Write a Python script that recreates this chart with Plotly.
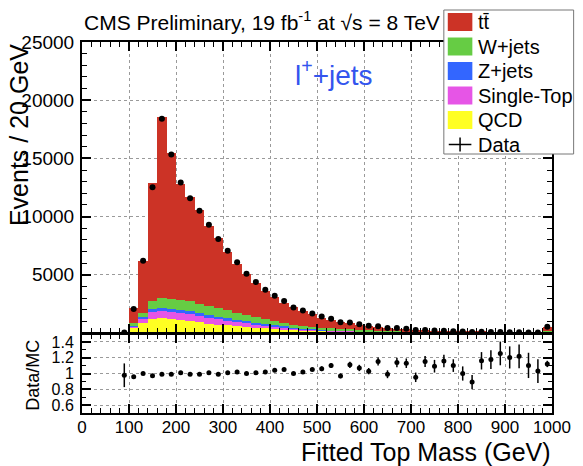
import plotly.graph_objects as go

# Fitted top-quark mass, 20 GeV bins (bin centres, GeV)
bin_center = list(range(90, 1000, 20))

# Stacked MC expectations per bin (events / 20 GeV)
qcd = [5, 400, 890, 1230, 1280, 1240, 1120, 1070, 920, 780, 720, 660, 600, 550, 460, 400,
       360, 320, 280, 240, 210, 185, 165, 145, 125, 110, 95, 82, 70, 60, 51, 44, 38, 32,
       27, 23, 20, 17, 14, 12, 10, 9, 8, 7, 6, 70]
single_top = [5, 200, 330, 600, 590, 590, 610, 600, 580, 550, 500, 430, 370, 330, 290, 250,
              210, 170, 120, 95, 80, 70, 60, 55, 50, 40, 35, 30, 26, 22, 19, 16, 13, 12,
              10, 9, 7, 6, 6, 5, 4, 3, 2, 2, 2, 25]
z_jets = [2, 80, 170, 230, 260, 260, 240, 220, 210, 200, 180, 165, 150, 130, 115, 105,
          90, 80, 60, 50, 40, 35, 30, 25, 20, 20, 18, 16, 14, 12, 10, 8, 7, 6,
          6, 5, 4, 4, 3, 3, 3, 2, 2, 1, 1, 15]
w_jets = [8, 140, 350, 720, 880, 870, 850, 830, 820, 800, 760, 700, 620, 560, 500, 430,
          370, 310, 250, 220, 190, 165, 145, 125, 110, 95, 82, 70, 60, 51, 44, 38, 32, 27,
          23, 19, 17, 14, 12, 10, 9, 8, 7, 6, 5, 60]
ttbar = [25, 1330, 4460, 10120, 15590, 12540, 9980, 8980, 8070, 6870, 5990, 5045, 4210,
         3530, 2965, 2465, 2050, 1740, 1490, 1295, 1080, 875, 720, 610, 515, 435, 370, 312,
         265, 225, 191, 164, 140, 118, 99, 84, 72, 61, 52, 44, 37, 32, 27, 23, 19, 310]

# Observed events and the relative statistical uncertainty of Data/MC
data = [44, 2064, 6200, 12513, 18414, 15345, 12928, 11583, 10494, 9292, 8069, 7070, 6069,
        5100, 4373, 3723, 3203, 2751, 2200, 1938, 1680, 1410, 1232, 931, 910, 749, 618,
        587, 431, 422, 356, 257, 265, 213, 191, 154, 120, 91, 101, 87, 79, 65, 56, 43, 34, 538]
ratio_err = [0.15, 0.02] + [0.01] * 16 + [0.02, 0.02, 0.02, 0.03, 0.03, 0.03, 0.04, 0.04,
             0.04, 0.05, 0.05, 0.06, 0.06, 0.06, 0.07, 0.08, 0.08, 0.08, 0.09, 0.09, 0.11,
             0.12, 0.15, 0.14, 0.15, 0.16, 0.15, 0.04]

mc_total = [sum(v) for v in zip(qcd, single_top, z_jets, w_jets, ttbar)]
ratio = [d / m for d, m in zip(data, mc_total)]

x_ticks = list(range(0, 1001, 100))
y_ticks = [5000, 10000, 15000, 20000, 25000]
y_labels = ["5000", "10000", "15000", "20000", "25000"]
r_ticks = [0.6, 0.8, 1.0, 1.2, 1.4]
r_labels = ["0.6", "0.8", "1", "1.2", "1.4"]

# Page geometry (pixels) and helpers to place decorations in paper units
W, H = 583, 466
ML, MR, MT, MB = 82, 23, 42, 53
PW, PH = W - ML - MR, H - MT - MB


def px(x):
    return (x - ML) / PW


def py(y):
    return (H - MB - y) / PH


FONT = "Liberation Sans, Arial, Helvetica, sans-serif"
colors = {"tt": "#cc3326", "W": "#66cc44", "Z": "#3366ff", "ST": "#e655e6", "QCD": "#ffff22"}

fig = go.Figure()

stack = [("QCD", qcd, colors["QCD"]), ("Single-Top", single_top, colors["ST"]),
         ("Z+jets", z_jets, colors["Z"]), ("W+jets", w_jets, colors["W"]),
         ("tt\u0304", ttbar, colors["tt"])]
for name, vals, col in stack:
    fig.add_trace(go.Bar(x=bin_center, y=vals, width=20, name=name,
                         marker=dict(color=col, line=dict(width=0)),
                         xaxis="x", yaxis="y", showlegend=False))

fig.add_trace(go.Scatter(x=bin_center, y=data, mode="markers", name="Data",
                         marker=dict(color="black", size=6),
                         error_y=dict(type="data", array=[e * m for e, m in zip(ratio_err, mc_total)],
                                      color="black", thickness=1.5, width=0),
                         xaxis="x", yaxis="y", showlegend=False))

fig.add_trace(go.Scatter(x=bin_center, y=ratio, mode="markers", name="Data/MC",
                         marker=dict(color="black", size=5),
                         error_y=dict(type="data", array=ratio_err, color="black",
                                      thickness=1.5, width=0),
                         xaxis="x2", yaxis="y2", showlegend=False))

frame = dict(showline=True, linecolor="black", linewidth=2, mirror="allticks",
             ticks="inside", tickcolor="black", tickwidth=1.5, ticklen=9,
             showgrid=True, gridcolor="#9a9a9a", griddash="dot", gridwidth=1,
             zeroline=False)

split_main = py(333)
split_ratio = py(334)

fig.update_layout(
    width=W, height=H,
    margin=dict(l=ML, r=MR, t=MT, b=MB),
    paper_bgcolor="white", plot_bgcolor="white",
    barmode="stack", bargap=0,
    font=dict(family=FONT, color="black"),
    xaxis=dict(frame, domain=[0, 1], range=[0, 1000], anchor="y",
               tickvals=x_ticks, showticklabels=False,
               minor=dict(dtick=20, tick0=0, ticks="inside", ticklen=5,
                          tickcolor="black", tickwidth=1, showgrid=False)),
    yaxis=dict(frame, domain=[split_main, 1], range=[0, 25000], anchor="x",
               tickvals=y_ticks, ticktext=y_labels, tickfont=dict(size=19),
               ticklabelstandoff=2,
               minor=dict(dtick=1000, tick0=0, ticks="inside", ticklen=5,
                          tickcolor="black", tickwidth=1, showgrid=False)),
    xaxis2=dict(frame, domain=[0, 1], range=[0, 1000], anchor="y2", matches="x",
                tickvals=x_ticks, tickfont=dict(size=17), ticklabelstandoff=-2,
                minor=dict(dtick=20, tick0=0, ticks="inside", ticklen=5,
                           tickcolor="black", tickwidth=1, showgrid=False)),
    yaxis2=dict(frame, domain=[0, split_ratio], range=[0.5, 1.5], anchor="x2",
                tickvals=r_ticks, ticktext=r_labels, tickfont=dict(size=16),
                ticklabelstandoff=3,
                minor=dict(dtick=0.1, tick0=0, ticks="inside", ticklen=4,
                           tickcolor="black", tickwidth=1, showgrid=False)),
)

annotations = [
    dict(text="CMS Preliminary, 19 fb<sup>-1</sup> at \u221as = 8 TeV", x=px(82), y=py(21),
         xanchor="left", yanchor="middle", font=dict(size=21)),
    dict(text="l<sup>+</sup>+jets", x=px(297), y=py(73), xanchor="left", yanchor="middle",
         font=dict(size=28, color="#3355ee")),
    dict(text="Events / 20 GeV", textangle=-90, x=px(18), y=py(42), xanchor="center",
         yanchor="top", font=dict(size=25)),
    dict(text="Data/MC", textangle=-90, x=px(32), y=py(375), xanchor="center",
         yanchor="middle", font=dict(size=18)),
    dict(text="Fitted Top Mass (GeV)", x=px(561), y=py(452), xanchor="right",
         yanchor="middle", font=dict(size=25)),
]

# Legend box drawn on top of the frame
shapes = [dict(type="rect", xref="paper", yref="paper", x0=px(450), x1=px(582),
               y0=py(154), y1=py(10), fillcolor="white", line=dict(color="#777777", width=1),
               layer="above")]
legend_rows = [("tt\u0304", colors["tt"]), ("W+jets", colors["W"]), ("Z+jets", colors["Z"]),
               ("Single-Top", colors["ST"]), ("QCD", colors["QCD"])]
row_gap = 24.5
for i, (label, col) in enumerate(legend_rows):
    yc = 22 + row_gap * i
    shapes.append(dict(type="rect", xref="paper", yref="paper", x0=px(454), x1=px(479),
                       y0=py(yc + 9), y1=py(yc - 9), fillcolor=col, line=dict(width=0),
                       layer="above"))
    annotations.append(dict(text=label, x=px(483), y=py(yc), xanchor="left", yanchor="middle",
                            font=dict(size=20)))
yc = 22 + row_gap * 5
shapes.append(dict(type="line", xref="paper", yref="paper", x0=px(455), x1=px(478),
                   y0=py(yc), y1=py(yc), line=dict(color="black", width=1.5), layer="above"))
shapes.append(dict(type="line", xref="paper", yref="paper", x0=px(466.5), x1=px(466.5),
                   y0=py(yc + 7), y1=py(yc - 7), line=dict(color="black", width=1.5),
                   layer="above"))
annotations.append(dict(text="Data", x=px(483), y=py(yc), xanchor="left", yanchor="middle",
                        font=dict(size=20)))

for a in annotations:
    a.setdefault("xref", "paper")
    a.setdefault("yref", "paper")
    a.setdefault("showarrow", False)

fig.update_layout(annotations=annotations, shapes=shapes)

fig.write_html("out.html")
